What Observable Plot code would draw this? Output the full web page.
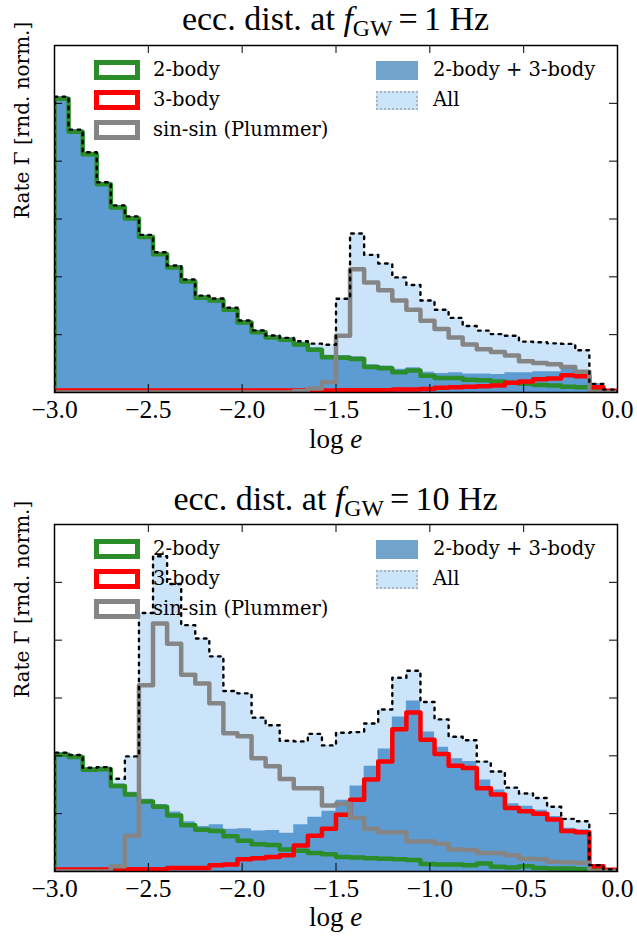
<!DOCTYPE html>
<html><head><meta charset="utf-8">
<script src="https://cdn.jsdelivr.net/npm/d3@7"></script>
<script src="https://cdn.jsdelivr.net/npm/@observablehq/plot@0.6"></script>
<style>
body{margin:0;background:#fff;}
#wrap{position:relative;width:637px;height:938px;overflow:hidden;background:#fff;}
.pn{position:absolute;left:0;}
.title{position:absolute;left:54px;width:563px;text-align:center;font-family:"Liberation Serif",serif;font-size:34px;line-height:34px;white-space:nowrap;}
.sub{font-size:0.7em;position:relative;top:0.24em;}
.eq{margin:0 0.18em;}
.xl{position:absolute;left:54px;width:563px;text-align:center;font-family:"Liberation Serif",serif;font-size:27px;line-height:27px;}
.lg{position:absolute;font-family:"DejaVu Serif",serif;font-size:19.5px;line-height:20px;white-space:nowrap;display:flex;align-items:center;}
.sw{box-sizing:border-box;background:#fff;}
</style></head><body><div id="wrap"></div>
<script>
// bins: 40 bins of log e from -3 to 0
const binCount = 40, binStart = -3, binWidth = 0.075;
const edges = d3.range(binCount).map(i => binStart + i * binWidth);
const xTicks = [-3, -2.5, -2, -1.5, -1, -0.5, 0];
const yTicks = [1, 2, 3, 4, 5];
const yLabel = "Rate Γ [rnd. norm.]";
const seriesNames = ["2-body", "3-body", "sin-sin (Plummer)", "2-body + 3-body", "All"];

// f_GW = 1 Hz
const two1 = [5.08,4.51,4.12,3.60,3.20,3.01,2.69,2.39,2.16,1.92,1.64,1.59,1.43,1.21,1.04,0.95,0.91,0.83,0.74,0.61,0.60,0.58,0.44,0.42,0.35,0.38,0.29,0.25,0.25,0.22,0.21,0.19,0.17,0.15,0.13,0.12,0.10,0.09,0.06,0.02];
const three1 = [0.035,0.035,0.035,0.035,0.035,0.035,0.035,0.035,0.035,0.035,0.035,0.035,0.035,0.035,0.035,0.035,0.035,0.035,0.035,0.035,0.04,0.04,0.04,0.04,0.05,0.05,0.06,0.08,0.09,0.10,0.11,0.12,0.17,0.19,0.23,0.24,0.30,0.28,0.09,0.03];
const sin1 = [0,0,0,0,0,0,0,0,0,0,0,0,0,0,0,0,0,0.02,0.07,0.18,0.98,2.13,1.90,1.77,1.59,1.43,1.24,1.10,0.95,0.83,0.75,0.70,0.64,0.54,0.51,0.49,0.44,0.36,0,0];

// f_GW = 10 Hz
const two10 = [2.02,1.98,1.76,1.77,1.48,1.33,1.21,1.12,0.97,0.80,0.72,0.70,0.61,0.53,0.47,0.46,0.38,0.36,0.32,0.30,0.25,0.24,0.23,0.22,0.21,0.20,0.13,0.12,0.12,0.11,0.14,0.08,0.07,0.09,0.06,0.05,0.05,0.04,0.02,0.01];
const three10 = [0.035,0.035,0.035,0.035,0.035,0.04,0.04,0.04,0.06,0.06,0.06,0.11,0.12,0.21,0.23,0.25,0.28,0.45,0.62,0.74,0.98,1.24,1.59,1.90,2.46,2.75,2.28,2.03,1.83,1.79,1.44,1.33,1.10,1.04,1.00,0.90,0.70,0.68,0.09,0.03];
const sin10 = [0,0,0,0,0.09,0.62,3.22,4.29,3.94,3.40,3.25,2.91,2.39,2.34,1.96,1.82,1.60,1.44,1.44,1.14,1.17,0.93,0.74,0.68,0.68,0.52,0.52,0.48,0.38,0.37,0.32,0.32,0.28,0.22,0.21,0.17,0.16,0.15,0,0];

const C = {two: "#2a8d2a", three: "#ff0000", sin: "#858585", fill23: "#5d9bd3", fillAll: "#cce4fa", sw23: "#72a4cb"};
const fmt = d3.format(".1f");

function steps(vals) {
  return [{x: binStart, y: 0}, ...vals.map((v, i) => ({x: edges[i], y: v})), {x: 0, y: 0}];
}

function panel(two, three, sin, H, mb) {
  const sum23 = two.map((v, i) => v + three[i]);
  const all = sum23.map((v, i) => v + sin[i]);
  const W = 637, mt = 45, ml = 54, mr = 20;
  const innerW = W - ml - mr, innerH = H - mt - mb;
  const st = {x: "x", y: "y", curve: "step-after", clip: true};
  return Plot.plot({
    width: W, height: H, marginTop: mt, marginBottom: mb, marginLeft: ml, marginRight: mr,
    x: {domain: [-3, 0], axis: null},
    y: {domain: [0, 6], axis: null},
    style: {background: "transparent", fontFamily: "DejaVu Serif", overflow: "visible"},
    marks: [
      Plot.areaY(steps(all), {...st, fill: C.fillAll}),
      Plot.areaY(steps(sum23), {...st, fill: C.fill23}),
      Plot.line(steps(two), {...st, stroke: C.two, strokeWidth: 4.5}),
      Plot.line(steps(three), {...st, stroke: C.three, strokeWidth: 4.5}),
      Plot.line(steps(sin), {...st, stroke: C.sin, strokeWidth: 4.5}),
      Plot.line(steps(all), {...st, stroke: "black", strokeWidth: 2.4, strokeDasharray: "2.5,5.5"}),
      Plot.tickX(xTicks, {x: d => d, insetTop: innerH - 8, stroke: "black", strokeWidth: 1}),
      Plot.tickX(xTicks, {x: d => d, insetBottom: innerH - 8, stroke: "black", strokeWidth: 1}),
      Plot.tickY(yTicks, {y: d => d, insetRight: innerW - 8, stroke: "black", strokeWidth: 1}),
      Plot.tickY(yTicks, {y: d => d, insetLeft: innerW - 8, stroke: "black", strokeWidth: 1}),
      Plot.frame({stroke: "black", strokeWidth: 1.5}),
      Plot.text(xTicks, {x: d => d, frameAnchor: "bottom", lineAnchor: "top", dy: 7, text: d => fmt(d), fontSize: 25.5, fontFamily: "Liberation Serif", fill: "black"}),
      Plot.text([yLabel], {frameAnchor: "left", rotate: -90, dx: -32, text: d => d, fontSize: 20, fontFamily: "DejaVu Serif", fill: "black"})
    ]
  });
}

const wrap = document.getElementById("wrap");
function place(el, top) { const d = document.createElement("div"); d.className = "pn"; d.style.top = top + "px"; d.appendChild(el); wrap.appendChild(d); }
place(panel(two1, three1, sin1, 460, 68), 0);
place(panel(two10, three10, sin10, 459, 67), 479);

function addHTML(html) { wrap.insertAdjacentHTML("beforeend", html); }
function title(freq, top) {
  addHTML(`<div class="title" style="top:${top}px">ecc. dist. at <i>f</i><span class="sub">GW</span><span class="eq">=</span>${freq} Hz</div>`);
}
title(1, 2); title(10, 482);
addHTML(`<div class="xl" style="top:426px">log <i>e</i></div>`);
addHTML(`<div class="xl" style="top:904px">log <i>e</i></div>`);

function legend(boxTop) {
  const lines = [[seriesNames[0], C.two], [seriesNames[1], C.three], [seriesNames[2], C.sin]];
  lines.forEach(([name, col], i) => {
    const cy = boxTop + 25 + 30 * i;
    addHTML(`<div class="lg" style="left:94px;top:${cy - 10}px"><div class="sw" style="width:46px;height:20px;border:5px solid ${col};margin-right:13px"></div>${name}</div>`);
  });
  addHTML(`<div class="lg" style="left:376px;top:${boxTop + 15}px"><div class="sw" style="width:42px;height:19px;background:${C.sw23};margin-right:15px"></div>${seriesNames[3]}</div>`);
  addHTML(`<div class="lg" style="left:376px;top:${boxTop + 45}px"><div class="sw" style="width:42px;height:19px;background:${C.fillAll};border:2px dotted #aab4bf;margin-right:15px"></div>${seriesNames[4]}</div>`);
}
legend(45); legend(524);
</script></body></html>
